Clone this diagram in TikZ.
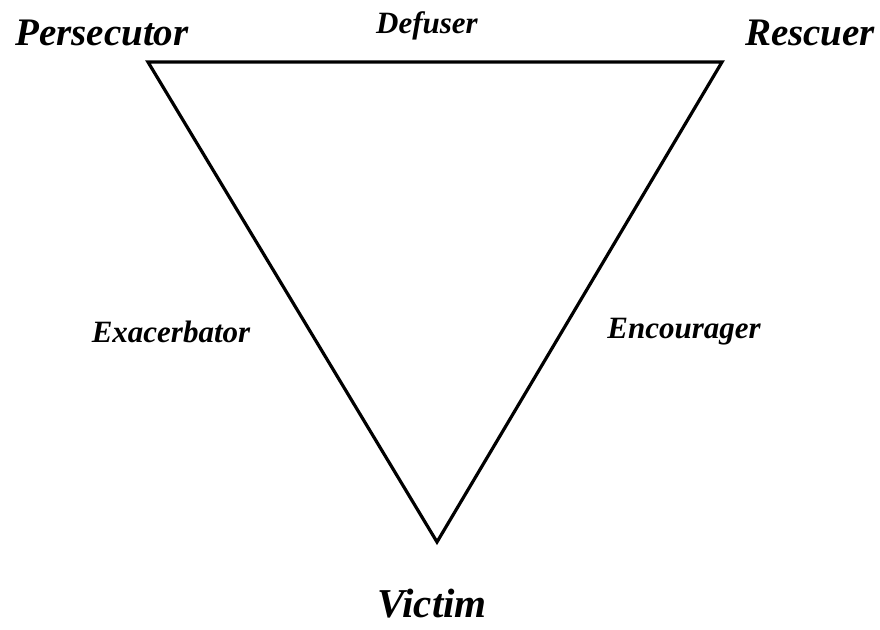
\documentclass[tikz,border=0pt]{standalone}
\usepackage{fontspec}
\setmainfont{Liberation Serif}
\begin{document}
\begin{tikzpicture}[x=1pt,y=-1pt,
  role/.style={font=\bfseries\itshape\fontsize{39}{44}\selectfont, inner sep=0pt, anchor=center},
  small/.style={font=\bfseries\itshape\fontsize{31}{36}\selectfont, inner sep=0pt, anchor=center},
  edge/.style={line width=3.2pt, line join=miter}]
\useasboundingbox (0,0) rectangle (880,629);
\coordinate (pl) at (148,62);
\coordinate (pr) at (722,62);
\coordinate (pv) at (437,542);
\draw[edge] (pl) -- (pr) -- (pv) -- cycle;
\node[role] (pers) at (102,33) {Persecutor};
\node[role] (resc) at (810,33) {Rescuer};
\node[small] (def) at (427,26) {Defuser};
\node[small] (exa) at (171,332) {Exacerbator};
\node[small] (enc) at (684,332) {Encourager};
\node[role, font=\bfseries\itshape\fontsize{41}{48}\selectfont] (vic) at (432,604) {Victim};
\end{tikzpicture}
\end{document}
